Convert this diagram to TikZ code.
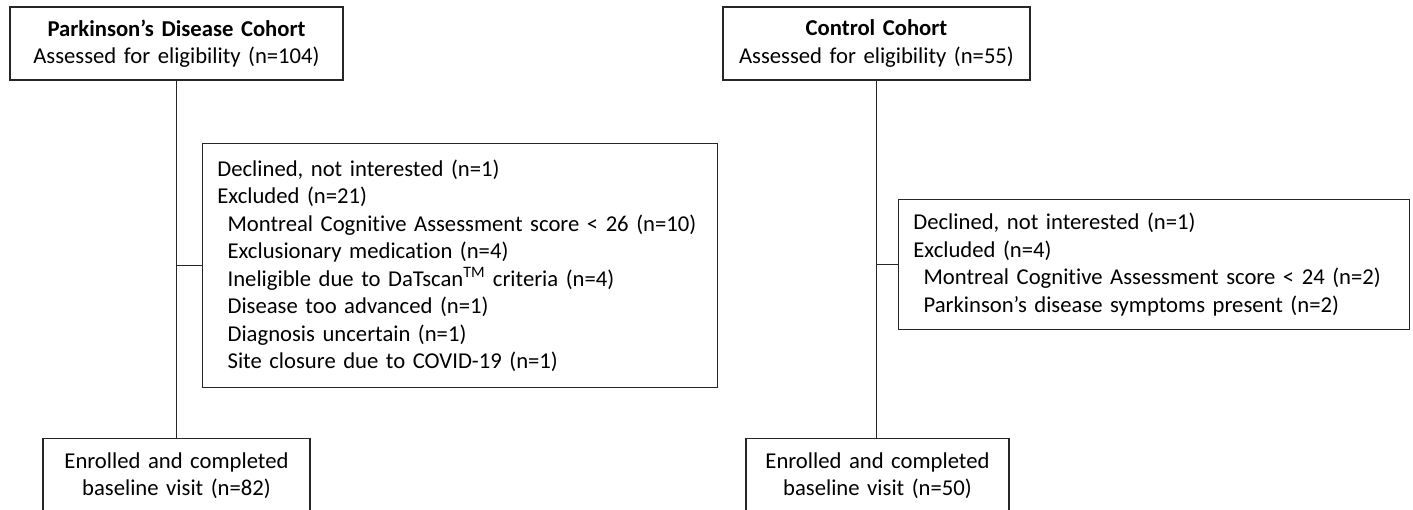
\documentclass[tikz,border=0pt]{standalone}
\usepackage{fontspec}
\setmainfont{Carlito}[Ligatures=NoCommon]
\usepackage{tikz}

\tikzset{
  flowbox/.style={draw=black!85, line width=1.1pt, fill=white,
    font=\fontsize{17pt}{20.6pt}\selectfont},
  topbox/.style={flowbox, align=center, inner xsep=4pt, inner ysep=0pt,
    minimum height=54.75pt},
  exbox/.style={flowbox, align=left, inner xsep=11pt, inner ysep=0pt},
  endbox/.style={flowbox, align=center, inner xsep=4pt, inner ysep=10.5pt,
    anchor=north},
  link/.style={draw=black!85, line width=1.1pt}
}

\begin{document}
\begin{tikzpicture}[x=0.75pt, y=-0.75pt]

      % picture frame, the lower boxes run out of it
      \clip (0,0) rectangle (1413,510);
      \fill[white] (0,0) rectangle (1413,510);

      % Parkinson's disease side.
      \node[topbox, text width=241.75pt] (pd) at (176.5,43.5)
      {\textbf{Parkinson’s Disease Cohort}\\Assessed for eligibility (n=104)};

      \node[exbox, anchor=north west, text width=364.25pt,
      minimum height=183pt] (pdex) at (202,143)
      {Declined, not interested (n=1)\\
       Excluded (n=21)\\
       \hspace{0.45em}Montreal Cognitive Assessment score < 26 (n=10)\\
       \hspace{0.45em}Exclusionary medication (n=4)\\
       \hspace{0.45em}Ineligible due to DaTscan\textsuperscript{TM} criteria (n=4)\\
       \hspace{0.45em}Disease too advanced (n=1)\\
       \hspace{0.45em}Diagnosis uncertain (n=1)\\
       \hspace{0.45em}Site closure due to COVID-19 (n=1)};

      \node[endbox, text width=192.25pt] (pdend) at (176.5,438)
      {Enrolled and completed\\baseline visit (n=82)};

      % Control side.
      \node[topbox, text width=222.25pt] (ct) at (876.5,43.5)
      {\textbf{Control Cohort}\\Assessed for eligibility (n=55)};

      \node[exbox, anchor=north west, text width=361.25pt,
      minimum height=97.5pt] (ctex) at (898,199)
      {Declined, not interested (n=1)\\
       Excluded (n=4)\\
       \hspace{0.45em}Montreal Cognitive Assessment score < 24 (n=2)\\
       \hspace{0.45em}Parkinson’s disease symptoms present (n=2)};

      \node[endbox, text width=189.25pt] (ctend) at (877.5,438)
      {Enrolled and completed\\baseline visit (n=50)};

      % Connectors.
      \draw[link] (pd.south) -- (pdend.north);
      \draw[link] (pdex.west) -- (pdex.west -| pd.south);
      \draw[link] (ct.south) -- (ct.south |- ctend.north);
      \draw[link] (ctex.west) -- (ctex.west -| ct.south);
\end{tikzpicture}
\end{document}
